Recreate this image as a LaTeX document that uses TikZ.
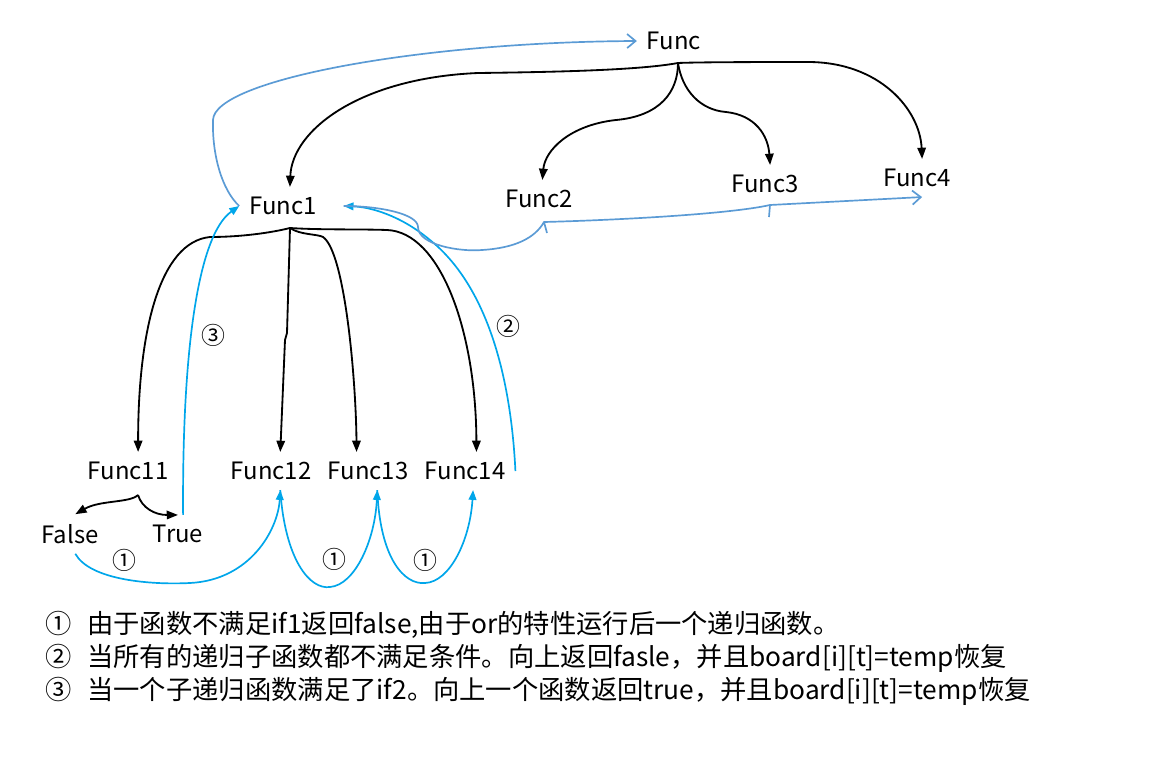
\documentclass[tikz,border=0pt]{standalone}
\usepackage{fontspec}
\setmainfont{Noto Sans CJK SC}
\usetikzlibrary{arrows.meta}
\definecolor{callcyan}{RGB}{0,166,234}
\definecolor{backblue}{RGB}{91,155,213}

\begin{document}
\begin{tikzpicture}[x=0.025cm, y=-0.025cm,
		every node/.style={font=\fontsize{17}{20}\selectfont, inner sep=7pt},
		note/.style={anchor=west, font=\fontsize{18.7}{22}\selectfont},
		call/.style={line width=1.3pt, -{Triangle[length=8pt, width=6pt]}},
		ret/.style={line width=1.2pt, callcyan, -{Triangle[length=7pt, width=5.5pt]}},
		back/.style={line width=1.2pt, backblue, line join=round}]
		\useasboundingbox (0,0) rectangle (1166,770);
		
		\node (f) at (674,41) {Func};
		\node (f1) at (283,206) {Func1};
		\node (f2) at (539,199) {Func2};
		\node (f3) at (765,184) {Func3};
		\node (f4) at (917,178) {Func4};
		\node (f11) at (128,471) {Func11};
		\node (f12) at (271,471) {Func12};
		\node (f13) at (368,471) {Func13};
		\node (f14) at (465,471) {Func14};
		\node (fls) at (70,534) {False};
		\node (tru) at (178,534) {True};
		
		\coordinate (j) at (678,63);
		\coordinate (j1) at (290,228);
		\coordinate (j11) at (138,495);
		
		\draw[call] (j) .. controls (640,70) and (560,72) .. (478,73) .. controls (360,78) and (292,130) .. (f1.70);
		\draw[call] (j) .. controls (678,92) and (660,116) .. (616,120) .. controls (570,125) and (545,150) .. (f2.80);
		\draw[call] (j) .. controls (682,90) and (700,110) .. (726,112) .. controls (755,115) and (768,135) .. (f3.75);
		\draw[call] (j) .. controls (700,62) and (780,62) .. (808,62) .. controls (880,62) and (920,110) .. (f4.75);
		
		\draw[call] (j1) .. controls (270,233) and (240,237) .. (210,237) .. controls (160,242) and (138,330) .. (f11.62);
		\draw[call] (j1) -- (287,333) -- (285,340) -- (f12.64);
		\draw[call] (j1) .. controls (300,235) and (318,234) .. (323,237) .. controls (345,252) and (356,380) .. (f13.121);
		\draw[call] (j1) .. controls (320,230) and (360,229) .. (387,230) .. controls (440,232) and (476,330) .. (f14.59);
		
		\draw[call] (j11) .. controls (130,503) and (100,500) .. (fls.75);
		\draw[call] (j11) .. controls (142,508) and (155,515) .. (tru.north);
		
		\draw[ret] (fls.-75) .. controls (90,580) and (150,585) .. (190,583) .. controls (250,580) and (278,530) .. (f12.-64);
		\draw[ret] (f12.-64) .. controls (285,560) and (310,590) .. (330,587) .. controls (355,585) and (375,540) .. (f13.-64);
		\draw[ret] (f13.-64) .. controls (380,560) and (405,585) .. (425,583) .. controls (450,582) and (470,540) .. (f14.-67);
		\draw[ret] (tru.75) .. controls (182,350) and (198,235) .. (f1.west);
		\draw[ret] (f14.east) .. controls (510,360) and (480,280) .. (430,240) .. controls (400,215) and (370,207) .. ([xshift=12pt]f1.east);
		
		\draw[back, -{Straight Barb[length=6pt, width=10pt]}] (f1.west) .. controls (222,190) and (212,155) .. (213,120) .. controls (214,80) and (420,42) .. (f.west);
		\draw[back] ([xshift=12pt]f1.east) .. controls (380,206) and (418,214) .. (418,227) .. controls (418,245) and (460,252) .. (482,250) .. controls (515,248) and (535,238) .. (544,222) -- (547,233);
		\draw[back, -{Straight Barb[length=6pt, width=10pt]}] (544,222) .. controls (620,220) and (730,214) .. (770,205) -- (f4.-75);
		\draw[back] (770,205) -- (769,217);
		
		\node (numA) at (124,560) {①};
		\node (numB) at (334,559) {①};
		\node (numC) at (425,560) {①};
		\node (numD) at (508,326) {②};
		\node (numE) at (213,335) {③};
		
		\node[note] (l1) at (35,625) {①\hspace{0.4cm}由于函数不满足if1返回false,由于or的特性运行后一个递归函数。};
		\node[note] (l2) at (35,658) {②\hspace{0.4cm}当所有的递归子函数都不满足条件。向上返回fasle，并且board[i][t]=temp恢复};
		\node[note] (l3) at (35,691) {③\hspace{0.4cm}当一个子递归函数满足了if2。向上一个函数返回true，并且board[i][t]=temp恢复};
	
	\end{tikzpicture}
\end{document}
